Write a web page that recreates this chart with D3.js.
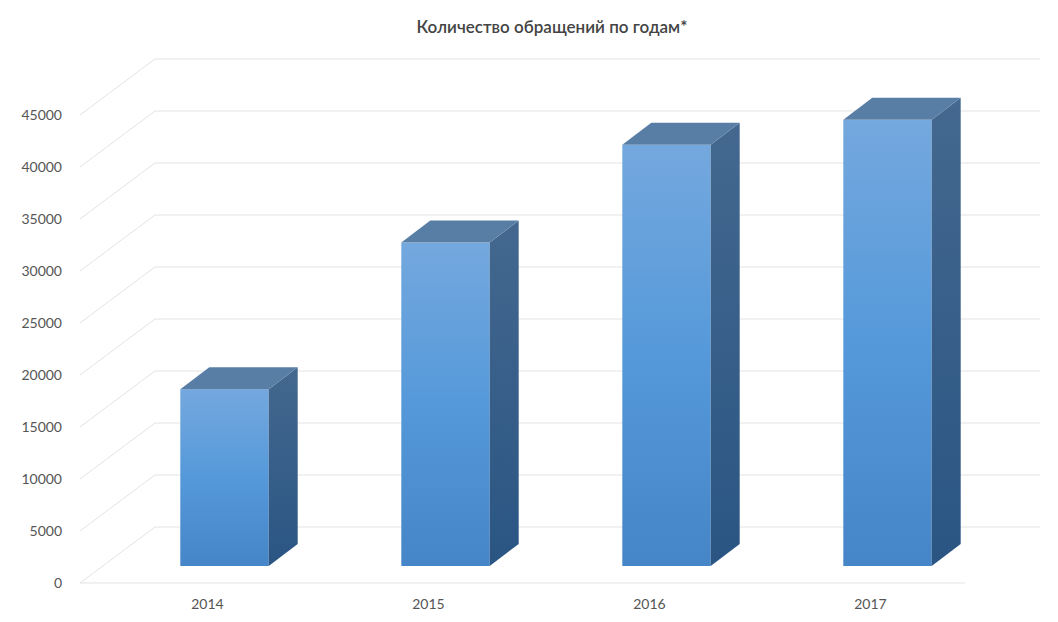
<!DOCTYPE html>
<html><head><meta charset="utf-8">
<script src="https://cdn.jsdelivr.net/npm/d3@7"></script>
<style>body{margin:0;background:#fff}</style>
</head><body>
<svg id="chart" width="1058" height="622"></svg>
<script>
const years = ["2014", "2015", "2016", "2017"];
const counts = [17000, 31100, 40500, 42900];
const ticks = [0, 5000, 10000, 15000, 20000, 25000, 30000, 35000, 40000, 45000];

const svg = d3.select("#chart");
const font = "Lato, 'Open Sans', sans-serif";

const y = d3.scaleLinear().domain([0, 45000]).range([583, 115]);
const x = d3.scaleBand().domain(years).range([114, 998]).paddingInner(0.6).paddingOuter(0.3);
const depthX = 75, depthY = -56;      // floor depth
const barDX = 29, barDY = -22;        // bar depth
const barOff = 17;                    // bar front sits behind the floor edge

const defs = svg.append("defs");
const gf = defs.append("linearGradient").attr("id", "front").attr("x1", 0).attr("y1", 0).attr("x2", 0).attr("y2", 1);
gf.append("stop").attr("offset", "0%").attr("stop-color", "#74a8de");
gf.append("stop").attr("offset", "50%").attr("stop-color", "#5599da");
gf.append("stop").attr("offset", "100%").attr("stop-color", "#4585c8");
const gs = defs.append("linearGradient").attr("id", "side").attr("x1", 0).attr("y1", 0).attr("x2", 0).attr("y2", 1);
gs.append("stop").attr("offset", "0%").attr("stop-color", "#44688f");
gs.append("stop").attr("offset", "100%").attr("stop-color", "#2a5583");

// grid
const grid = svg.append("g").attr("stroke", "#e3e3e3").attr("fill", "none").attr("stroke-width", 1);
ticks.forEach(t => {
  grid.append("path").attr("d", `M80,${y(t)}L${80 + depthX},${y(t) + depthY}L${1040},${y(t) + depthY}`);
});
grid.append("path").attr("d", `M80,${y(0)}L965,${y(0)}`);

// axis labels
svg.append("g").selectAll("text").data(ticks).join("text")
  .attr("x", 62).attr("y", d => y(d) + 5).attr("text-anchor", "end")
  .attr("font-family", font).attr("font-size", 14).attr("fill", "#555").text(d => d);

svg.append("g").selectAll("text").data(years).join("text")
  .attr("x", d => x(d) + x.bandwidth() / 2 - 17).attr("y", 609).attr("text-anchor", "middle")
  .attr("font-family", font).attr("font-size", 14).attr("fill", "#555").text(d => d);

// bars
const base = y(0) - barOff;
const bars = svg.append("g").selectAll("g").data(years.map((yr, i) => ({ yr, v: counts[i] }))).join("g");
bars.each(function (d) {
  const g = d3.select(this);
  const x0 = x(d.yr), w = x.bandwidth();
  const top = y(d.v) - barOff;
  g.append("rect").attr("x", x0).attr("y", top).attr("width", w).attr("height", base - top).attr("fill", "url(#front)");
  g.append("path").attr("fill", "url(#side)")
    .attr("d", `M${x0 + w},${top}L${x0 + w + barDX},${top + barDY}L${x0 + w + barDX},${base + barDY}L${x0 + w},${base}Z`);
  g.append("path").attr("fill", "#587ea6")
    .attr("d", `M${x0},${top}L${x0 + barDX},${top + barDY}L${x0 + w + barDX},${top + barDY}L${x0 + w},${top}Z`);
});

svg.append("text").attr("x", 552).attr("y", 33).attr("text-anchor", "middle")
  .attr("font-family", font).attr("font-size", 17).attr("font-weight", 600).attr("fill", "#444")
  .text("Количество обращений по годам*");
</script>
</body></html>
